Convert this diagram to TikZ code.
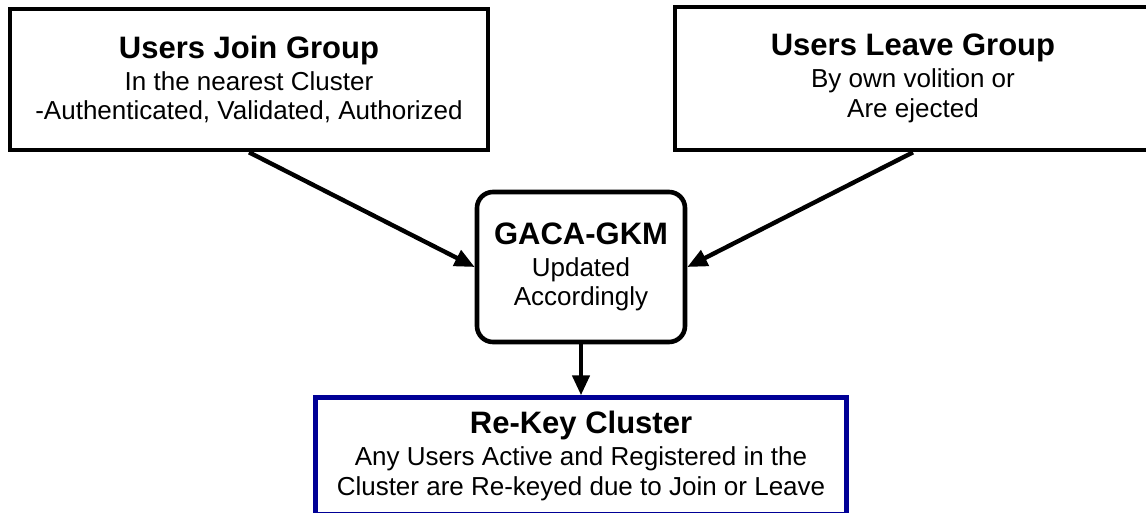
\documentclass[tikz,border=0pt]{standalone}
\usepackage{fontspec}
\setmainfont{Liberation Sans}
\usepackage{xcolor}
\usetikzlibrary{positioning}
\usetikzlibrary{arrows.meta}
\definecolor{keyblue}{RGB}{0,0,150}
\newcommand{\boxtitle}[1]{{\fontsize{31}{34}\selectfont\bfseries #1}\\[2.5pt]}
\tikzset{
  groupbox/.style={draw=black, line width=4.6pt, align=center, inner sep=0pt,
    font=\fontsize{26}{29.5}\selectfont},
  flowarrow/.style={line width=4.4pt, -{Triangle[length=20pt,width=17pt]}}
}
\begin{document}
\begin{tikzpicture}[x=1pt, y=1pt]
	\useasboundingbox (0,0) rectangle (1146,-512);
	\node[groupbox, minimum width=478pt, minimum height=141pt] (join) at (249,-79.5) {\boxtitle{Users Join Group}In the nearest Cluster\\-Authenticated, Validated, Authorized};
	\node[groupbox, minimum width=476pt, minimum height=143pt] (leave) at (913,-78.5) {\boxtitle{Users Leave Group}By own volition or\\Are ejected};
	\node[groupbox, rounded corners=16pt, minimum width=208pt, minimum height=150pt] (gaca) at (581,-267) {\boxtitle{GACA-GKM}Updated\\Accordingly};
	\node[groupbox, draw=keyblue, minimum width=531pt, minimum height=117pt, below=51pt of gaca] (rekey) {\boxtitle{Re-Key Cluster}Any Users Active and Registered in the\\Cluster are Re-keyed due to Join or Leave};

	\draw[flowarrow] (join.south) -- (gaca.west);
	\draw[flowarrow] (leave.south) -- (gaca.east);
	\draw[flowarrow] (gaca.south) -- (rekey.north);
\end{tikzpicture}
\end{document}
